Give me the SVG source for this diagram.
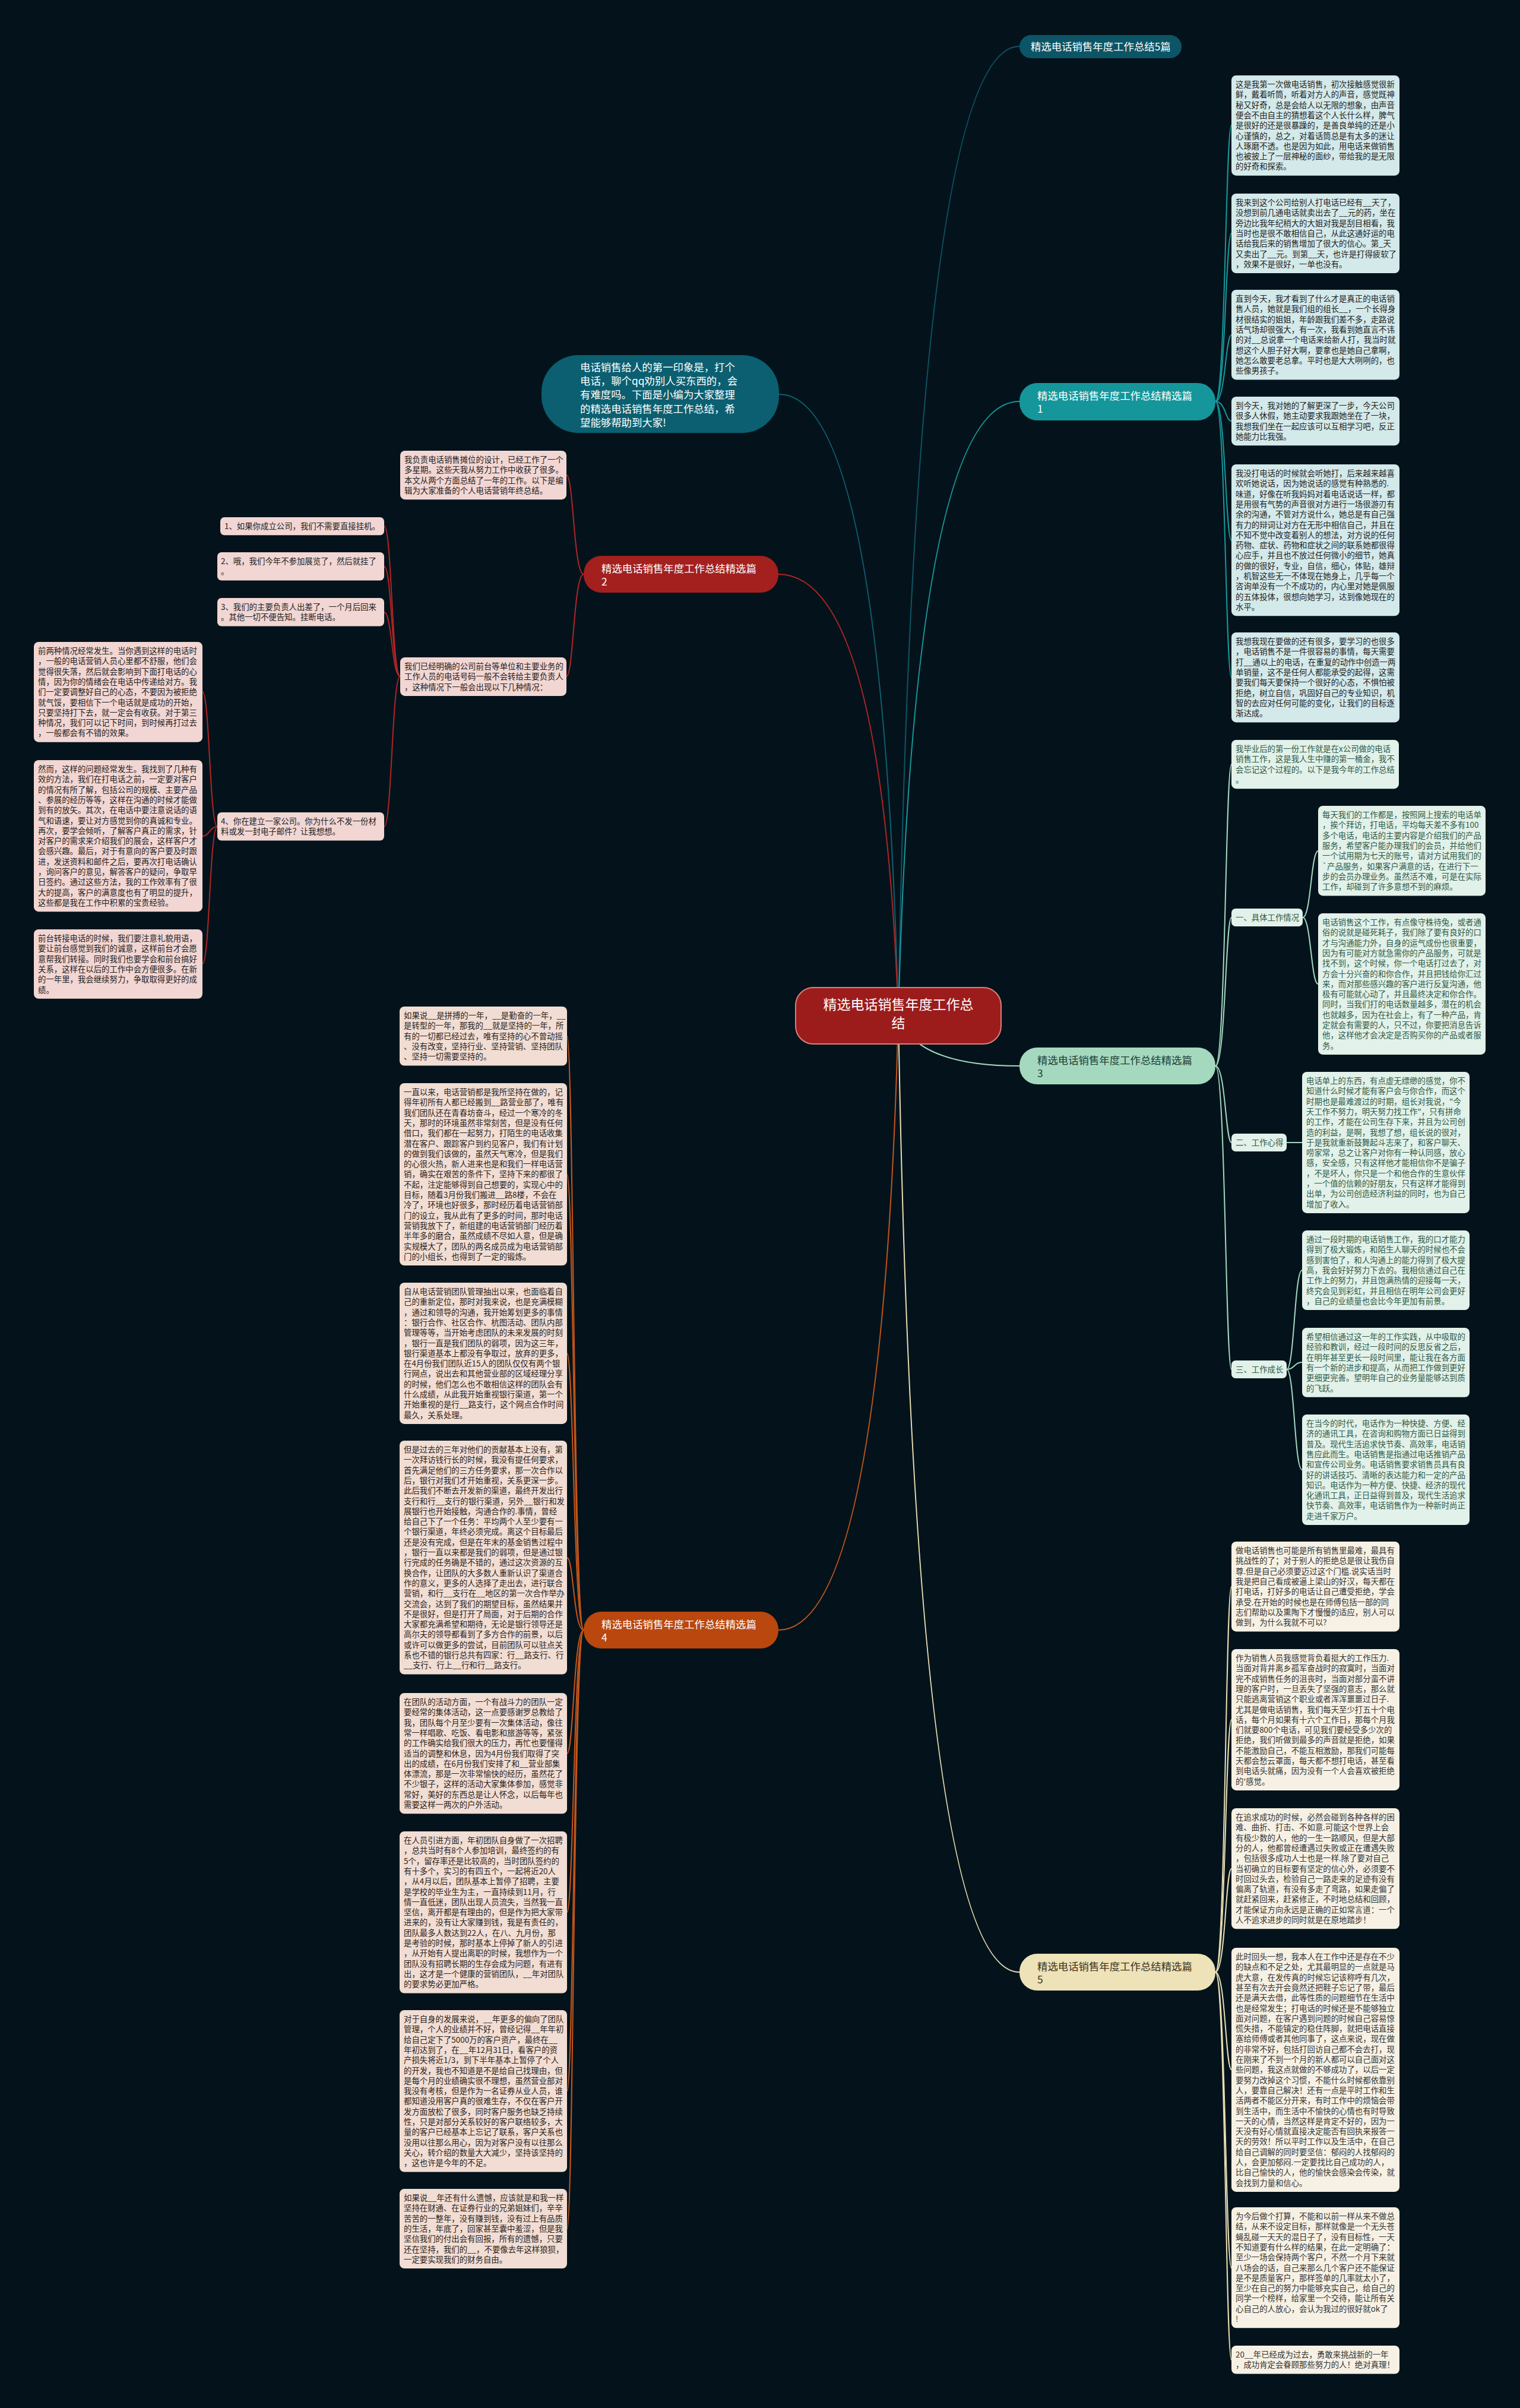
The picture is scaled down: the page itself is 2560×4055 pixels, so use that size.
<svg xmlns="http://www.w3.org/2000/svg" width="2560" height="4055" viewBox="0 0 2560 4055">
<style>
text{font-family:"Noto Sans CJK SC","Noto Sans",sans-serif;}
.tx{font-size:13.4px;}
.nd{font-size:17.4px;}
.ln{fill:none;stroke-width:2;}
.c1 rect{fill:#d3e9ea;} .c1 text{fill:#222;}
.c2 rect{fill:#f2d6d3;} .c2 text{fill:#222;}
.c3 rect{fill:#e2f1e9;} .c3 text{fill:#2d5a47;}
.c4 rect{fill:#f1ddd3;} .c4 text{fill:#2a2320;}
.c5 rect{fill:#f6f1e4;} .c5 text{fill:#333;}
</style>
<rect width="2560" height="4055" fill="#04131b"/>

<g id="connectors">
<path class="ln" stroke="#0e5767" d="M1513 1710 Q1540 78 1717 78"/>
<path class="ln" stroke="#0e6070" d="M1513 1710 Q1486 664 1312 664"/>
<path class="ln" stroke="#17999e" d="M1513 1710 Q1540 676 1717 676"/>
<path class="ln" stroke="#b02525" d="M1513 1710 Q1486 967 1311 967"/>
<path class="ln" stroke="#a4d9c0" d="M1513 1710 Q1540 1795 1717 1795"/>
<path class="ln" stroke="#c4561a" d="M1513 1710 Q1486 2745 1311 2745"/>
<path class="ln" stroke="#eadfb5" d="M1513 1710 Q1540 3321 1717 3321"/>
<g stroke="#17999e" class="ln">
<path d="M2047 676 C2064 676 2064 211 2074 211"/>
<path d="M2047 676 C2064 676 2064 393 2074 393"/>
<path d="M2047 676 C2064 676 2064 564 2074 564"/>
<path d="M2047 676 C2064 676 2064 709 2074 709"/>
<path d="M2047 676 C2064 676 2064 910 2074 910"/>
<path d="M2047 676 C2064 676 2064 1141 2074 1141"/>
</g>
<g stroke="#a4d9c0" class="ln">
<path d="M2047 1795 C2064 1795 2064 1287 2074 1287"/>
<path d="M2047 1795 C2064 1795 2064 1545 2074 1545"/>
<path d="M2047 1795 C2064 1795 2064 1924 2074 1924"/>
<path d="M2047 1795 C2064 1795 2064 2306 2074 2306"/>
<path d="M2194 1545 C2208 1545 2208 1433 2220 1433"/>
<path d="M2194 1545 C2208 1545 2208 1657 2220 1657"/>
<path d="M2167 1924 L2193 1924"/>
<path d="M2167 2306 C2180 2306 2180 2139 2193 2139"/>
<path d="M2167 2306 C2180 2306 2180 2294 2193 2294"/>
<path d="M2167 2306 C2180 2306 2180 2475 2193 2475"/>
</g>
<g stroke="#eadfb5" class="ln">
<path d="M2047 3321 C2064 3321 2064 2672 2074 2672"/>
<path d="M2047 3321 C2064 3321 2064 2896 2074 2896"/>
<path d="M2047 3321 C2064 3321 2064 3147 2074 3147"/>
<path d="M2047 3321 C2064 3321 2064 3485 2074 3485"/>
<path d="M2047 3321 C2064 3321 2064 3819 2074 3819"/>
<path d="M2047 3321 C2064 3321 2064 3974 2074 3974"/>
</g>
<g stroke="#c4561a" class="ln">
<path d="M983 2745 C966 2745 966 1745 955 1745"/>
<path d="M983 2745 C966 2745 966 1978 955 1978"/>
<path d="M983 2745 C966 2745 966 2279 955 2279"/>
<path d="M983 2745 C966 2745 966 2623 955 2623"/>
<path d="M983 2745 C966 2745 966 2953 955 2953"/>
<path d="M983 2745 C966 2745 966 3220 955 3220"/>
<path d="M983 2745 C966 2745 966 3521 955 3521"/>
<path d="M983 2745 C966 2745 966 3753 955 3753"/>
</g>
<g stroke="#b02525" class="ln">
<path d="M983 967 C966 967 966 800 954 800"/>
<path d="M983 967 C966 967 966 1139 954 1139"/>
<path d="M674 1139 C660 1139 660 886 647 886"/>
<path d="M674 1139 C660 1139 660 954 647 954"/>
<path d="M674 1139 C660 1139 660 1031 647 1031"/>
<path d="M674 1139 C660 1139 660 1392 647 1392"/>
<path d="M366 1392 C353 1392 353 1165 341 1165"/>
<path d="M366 1392 C353 1392 353 1408 341 1408"/>
<path d="M366 1392 C353 1392 353 1623 341 1623"/>
</g>
</g>

<g id="root">
<rect x="1340" y="1663" width="346" height="95" rx="30" fill="#9c1c1c" stroke="#d88080" stroke-width="2"/>
<text x="1513" y="1700" text-anchor="middle" font-size="23" fill="#fff"><tspan x="1513">精选电话销售年度工作总</tspan><tspan x="1513" dy="31">结</tspan></text>
</g>

<g id="title5">
<rect x="1717" y="59" width="273" height="39" rx="19.5" fill="#0c5566"/>
<text x="1736" y="85" class="nd" fill="#fff">精选电话销售年度工作总结5篇</text>
</g>

<g id="intro">
<rect x="912" y="598" width="400" height="131" rx="62" fill="#0b5f70"/>
<text class="nd" fill="#fff"><tspan x="977" y="625">电话销售给人的第一印象是，打个</tspan><tspan x="977" dy="23.2">电话，聊个qq劝别人买东西的，会</tspan><tspan x="977" dy="23.2">有难度吗。下面是小编为大家整理</tspan><tspan x="977" dy="23.2">的精选电话销售年度工作总结，希</tspan><tspan x="977" dy="23.2">望能够帮助到大家!</tspan></text>
</g>

<g id="node1">
<rect x="1717" y="645" width="330" height="63" rx="30" fill="#14969b"/>
<text class="nd" fill="#fff"><tspan x="1747" y="673">精选电话销售年度工作总结精选篇</tspan><tspan x="1747" dy="22">1</tspan></text>
</g>
<g id="node2">
<rect x="983" y="936" width="328" height="62" rx="30" fill="#a3201f"/>
<text class="nd" fill="#fff"><tspan x="1013" y="964">精选电话销售年度工作总结精选篇</tspan><tspan x="1013" dy="22">2</tspan></text>
</g>
<g id="node3">
<rect x="1717" y="1764" width="330" height="62" rx="30" fill="#a4d9c0"/>
<text class="nd" fill="#1e3d35"><tspan x="1747" y="1792">精选电话销售年度工作总结精选篇</tspan><tspan x="1747" dy="22">3</tspan></text>
</g>
<g id="node4">
<rect x="983" y="2714" width="328" height="62" rx="30" fill="#b9470e"/>
<text class="nd" fill="#fff"><tspan x="1013" y="2742">精选电话销售年度工作总结精选篇</tspan><tspan x="1013" dy="22">4</tspan></text>
</g>
<g id="node5">
<rect x="1717" y="3290" width="330" height="62" rx="30" fill="#eee2b8"/>
<text class="nd" fill="#3b3320"><tspan x="1747" y="3318">精选电话销售年度工作总结精选篇</tspan><tspan x="1747" dy="22">5</tspan></text>
</g>

<g class="c1">
<g id="b1a"><rect x="2074" y="127" width="283" height="168.7" rx="8"/>
<text class="tx"><tspan x="2081" y="147">这是我第一次做电话销售，初次接触感觉很新</tspan><tspan x="2081" dy="17.3">鲜，戴着听筒，听着对方人的声音，感觉既神</tspan><tspan x="2081" dy="17.3">秘又好奇，总是会给人以无限的想象，由声音</tspan><tspan x="2081" dy="17.3">便会不由自主的猜想着这个人长什么样，脾气</tspan><tspan x="2081" dy="17.3">是很好的还是很暴躁的，是善良单纯的还是小</tspan><tspan x="2081" dy="17.3">心谨慎的，总之，对着话筒总是有太多的迷让</tspan><tspan x="2081" dy="17.3">人琢磨不透。也是因为如此，用电话来做销售</tspan><tspan x="2081" dy="17.3">也被披上了一层神秘的面纱，带给我的是无限</tspan><tspan x="2081" dy="17.3">的好奇和探索。</tspan></text></g>
<g id="b1b"><rect x="2074" y="326" width="283" height="134.1" rx="8"/>
<text class="tx"><tspan x="2081" y="346">我来到这个公司给别人打电话已经有__天了，</tspan><tspan x="2081" dy="17.3">没想到前几通电话就卖出去了__元的药，坐在</tspan><tspan x="2081" dy="17.3">旁边比我年纪稍大的大姐对我是刮目相看，我</tspan><tspan x="2081" dy="17.3">当时也是很不敢相信自己，从此这通好运的电</tspan><tspan x="2081" dy="17.3">话给我后来的销售增加了很大的信心。第_天</tspan><tspan x="2081" dy="17.3">又卖出了__元。到第__天，也许是打得疲软了</tspan><tspan x="2081" dy="17.3">，效果不是很好，一单也没有。</tspan></text></g>
<g id="b1c"><rect x="2074" y="488" width="283" height="151.4" rx="8"/>
<text class="tx"><tspan x="2081" y="508">直到今天，我才看到了什么才是真正的电话销</tspan><tspan x="2081" dy="17.3">售人员，她就是我们组的组长__，一个长得身</tspan><tspan x="2081" dy="17.3">材很结实的姐姐，年龄跟我们差不多，走路说</tspan><tspan x="2081" dy="17.3">话气场却很强大，有一次，我看到她直言不讳</tspan><tspan x="2081" dy="17.3">的对__总说拿一个电话来给新人打，我当时就</tspan><tspan x="2081" dy="17.3">想这个人胆子好大啊，要拿也是她自己拿啊，</tspan><tspan x="2081" dy="17.3">她怎么敢要老总拿。平时也是大大咧咧的，也</tspan><tspan x="2081" dy="17.3">些像男孩子。</tspan></text></g>
<g id="b1d"><rect x="2074" y="668" width="283" height="82.2" rx="8"/>
<text class="tx"><tspan x="2081" y="688">到今天，我对她的了解更深了一步，今天公司</tspan><tspan x="2081" dy="17.3">很多人休假，她主动要求我跟她坐在了一块，</tspan><tspan x="2081" dy="17.3">我想我们坐在一起应该可以互相学习吧，反正</tspan><tspan x="2081" dy="17.3">她能力比我强。</tspan></text></g>
<g id="b1e"><rect x="2074" y="782" width="283" height="255.2" rx="8"/>
<text class="tx"><tspan x="2081" y="802">我没打电话的时候就会听她打，后来越来越喜</tspan><tspan x="2081" dy="17.3">欢听她说话，因为她说话的感觉有种熟悉的.</tspan><tspan x="2081" dy="17.3">味道，好像在听我妈妈对着电话说话一样，都</tspan><tspan x="2081" dy="17.3">是用很有气势的声音很对方进行一场很游刃有</tspan><tspan x="2081" dy="17.3">余的沟通，不管对方说什么，她总是有自己强</tspan><tspan x="2081" dy="17.3">有力的辩词让对方在无形中相信自己，并且在</tspan><tspan x="2081" dy="17.3">不知不觉中改变着别人的想法，对方说的任何</tspan><tspan x="2081" dy="17.3">药物、症状、药物和症状之间的联系她都很得</tspan><tspan x="2081" dy="17.3">心应手，并且也不放过任何微小的细节，她真</tspan><tspan x="2081" dy="17.3">的做的很好，专业，自信，细心，体贴，雄辩</tspan><tspan x="2081" dy="17.3">，机智这些无一不体现在她身上，几乎每一个</tspan><tspan x="2081" dy="17.3">咨询单没有一个不成功的，内心里对她是佩服</tspan><tspan x="2081" dy="17.3">的五体投体，很想向她学习，达到像她现在的</tspan><tspan x="2081" dy="17.3">水平。</tspan></text></g>
<g id="b1f"><rect x="2074" y="1065" width="283" height="151.4" rx="8"/>
<text class="tx"><tspan x="2081" y="1085">我想我现在要做的还有很多，要学习的也很多</tspan><tspan x="2081" dy="17.3">，电话销售不是一件很容易的事情，每天需要</tspan><tspan x="2081" dy="17.3">打__通以上的电话，在重复的动作中创造一两</tspan><tspan x="2081" dy="17.3">单销量，这不是任何人都能承受的起得，这需</tspan><tspan x="2081" dy="17.3">要我们每天要保持一个很好的心态，不惧怕被</tspan><tspan x="2081" dy="17.3">拒绝，树立自信，巩固好自己的专业知识，机</tspan><tspan x="2081" dy="17.3">智的去应对任何可能的变化，让我们的目标逐</tspan><tspan x="2081" dy="17.3">渐达成。</tspan></text></g>
</g>

<g class="c3">
<g id="b3intro"><rect x="2074" y="1246" width="282" height="82.2" rx="8"/>
<text class="tx"><tspan x="2081" y="1266">我毕业后的第一份工作就是在x公司做的电话</tspan><tspan x="2081" dy="17.3">销售工作，这是我人生中赚的第一桶金，我不</tspan><tspan x="2081" dy="17.3">会忘记这个过程的。以下是我今年的工作总结</tspan><tspan x="2081" dy="17.3">。</tspan></text></g>
<g id="b3l1"><rect x="2074" y="1530" width="120" height="30" rx="7"/><text class="tx" x="2081" y="1550">一、具体工作情况</text></g>
<g id="b3a"><rect x="2220" y="1357" width="282" height="151.4" rx="8"/>
<text class="tx"><tspan x="2227" y="1377">每天我们的工作都是，按照网上搜索的电话单</tspan><tspan x="2227" dy="17.3">，挨个拜访，打电话，平均每天差不多有100</tspan><tspan x="2227" dy="17.3">多个电话，电话的主要内容是介绍我们的产品</tspan><tspan x="2227" dy="17.3">服务，希望客户能办理我们的会员，并给他们</tspan><tspan x="2227" dy="17.3">一个试用期为七天的账号，请对方试用我们的</tspan><tspan x="2227" dy="17.3">`产品服务，如果客户满意的话，在进行下一</tspan><tspan x="2227" dy="17.3">步的会员办理业务。虽然活不难，可是在实际</tspan><tspan x="2227" dy="17.3">工作，却碰到了许多意想不到的麻烦。</tspan></text></g>
<g id="b3b"><rect x="2220" y="1538" width="282" height="237.9" rx="8"/>
<text class="tx"><tspan x="2227" y="1558">电话销售这个工作，有点像守株待兔，或者通</tspan><tspan x="2227" dy="17.3">俗的说就是碰死耗子，我们除了要有良好的口</tspan><tspan x="2227" dy="17.3">才与沟通能力外，自身的运气成份也很重要，</tspan><tspan x="2227" dy="17.3">因为有可能对方就急需你的产品服务，可就是</tspan><tspan x="2227" dy="17.3">找不到，这个时候，你一个电话打过去了，对</tspan><tspan x="2227" dy="17.3">方会十分兴奋的和你合作，并且把钱给你汇过</tspan><tspan x="2227" dy="17.3">来，而对那些感兴趣的客户进行反复沟通，他</tspan><tspan x="2227" dy="17.3">极有可能就心动了，并且最终决定和你合作。</tspan><tspan x="2227" dy="17.3">同时，当我们打的电话数量越多，潜在的机会</tspan><tspan x="2227" dy="17.3">也就越多，因为在社会上，有了一种产品，肯</tspan><tspan x="2227" dy="17.3">定就会有需要的人，只不过，你要把消息告诉</tspan><tspan x="2227" dy="17.3">他，这样他才会决定是否购买你的产品或者服</tspan><tspan x="2227" dy="17.3">务。</tspan></text></g>
<g id="b3l2"><rect x="2074" y="1909" width="93" height="30" rx="7"/><text class="tx" x="2081" y="1929">二、工作心得</text></g>
<g id="b3c"><rect x="2193" y="1805" width="282" height="237.9" rx="8"/>
<text class="tx"><tspan x="2200" y="1825">电话单上的东西，有点虚无缥缈的感觉，你不</tspan><tspan x="2200" dy="17.3">知道什么时候才能有客户会与你合作，而这个</tspan><tspan x="2200" dy="17.3">时期也是最难渡过的时期，组长对我说，"今</tspan><tspan x="2200" dy="17.3">天工作不努力，明天努力找工作"，只有拼命</tspan><tspan x="2200" dy="17.3">的工作，才能在公司生存下来，并且为公司创</tspan><tspan x="2200" dy="17.3">造的利益，是啊，我想了想，组长说的很对，</tspan><tspan x="2200" dy="17.3">于是我就重新鼓舞起斗志来了，和客户聊天、</tspan><tspan x="2200" dy="17.3">唠家常，总之让客户对你有一种认同感，放心</tspan><tspan x="2200" dy="17.3">感，安全感，只有这样他才能相信你不是骗子</tspan><tspan x="2200" dy="17.3">，不是坏人，你只是一个和他合作的生意伙伴</tspan><tspan x="2200" dy="17.3">，一个值的信赖的好朋友，只有这样才能得到</tspan><tspan x="2200" dy="17.3">出单，为公司创造经济利益的同时，也为自己</tspan><tspan x="2200" dy="17.3">增加了收入。</tspan></text></g>
<g id="b3l3"><rect x="2074" y="2291" width="93" height="30" rx="7"/><text class="tx" x="2081" y="2311">三、工作成长</text></g>
<g id="b3d"><rect x="2193" y="2072" width="282" height="134.1" rx="8"/>
<text class="tx"><tspan x="2200" y="2092">通过一段时期的电话销售工作，我的口才能力</tspan><tspan x="2200" dy="17.3">得到了极大锻炼，和陌生人聊天的时候也不会</tspan><tspan x="2200" dy="17.3">感到害怕了，和人沟通上的能力得到了极大提</tspan><tspan x="2200" dy="17.3">高，我会好好努力下去的。我相信通过自己在</tspan><tspan x="2200" dy="17.3">工作上的努力，并且饱满热情的迎接每一天，</tspan><tspan x="2200" dy="17.3">终究会见到彩虹，并且相信在明年公司会更好</tspan><tspan x="2200" dy="17.3">，自己的业绩量也会比今年更加有前景。</tspan></text></g>
<g id="b3e"><rect x="2193" y="2236" width="282" height="116.8" rx="8"/>
<text class="tx"><tspan x="2200" y="2256">希望相信通过这一年的工作实践，从中吸取的</tspan><tspan x="2200" dy="17.3">经验和教训，经过一段时间的反思反省之后，</tspan><tspan x="2200" dy="17.3">在明年甚至更长一段时间里，能让我在各方面</tspan><tspan x="2200" dy="17.3">有一个新的进步和提高，从而把工作做到更好</tspan><tspan x="2200" dy="17.3">更细更完善。望明年自己的业务量能够达到质</tspan><tspan x="2200" dy="17.3">的飞跃。</tspan></text></g>
<g id="b3f"><rect x="2193" y="2382" width="282" height="186" rx="8"/>
<text class="tx"><tspan x="2200" y="2402">在当今的时代，电话作为一种快捷、方便、经</tspan><tspan x="2200" dy="17.3">济的通讯工具，在咨询和购物方面已日益得到</tspan><tspan x="2200" dy="17.3">普及。现代生活追求快节奏、高效率，电话销</tspan><tspan x="2200" dy="17.3">售应此而生。电话销售是指通过电话推销产品</tspan><tspan x="2200" dy="17.3">和宣传公司业务。电话销售要求销售员具有良</tspan><tspan x="2200" dy="17.3">好的讲话技巧、清晰的表达能力和一定的产品</tspan><tspan x="2200" dy="17.3">知识。电话作为一种方便、快捷、经济的现代</tspan><tspan x="2200" dy="17.3">化通讯工具，正日益得到普及，现代生活追求</tspan><tspan x="2200" dy="17.3">快节奏、高效率，电话销售作为一种新时尚正</tspan><tspan x="2200" dy="17.3">走进千家万户。</tspan></text></g>
</g>

<g class="c5">
<g id="b5a"><rect x="2074" y="2596" width="283" height="151.4" rx="8"/>
<text class="tx"><tspan x="2081" y="2616">做电话销售也可能是所有销售里最难，最具有</tspan><tspan x="2081" dy="17.3">挑战性的了；对于别人的拒绝总是很让我伤自</tspan><tspan x="2081" dy="17.3">尊.但是自己必须要迈过这个门槛.说实话当时</tspan><tspan x="2081" dy="17.3">我是把自己看成被逼上梁山的好汉，每天都在</tspan><tspan x="2081" dy="17.3">打电话，打好多的电话让自己遭受拒绝，学会</tspan><tspan x="2081" dy="17.3">承受.在开始的时候也是在师傅包括一部的同</tspan><tspan x="2081" dy="17.3">志们帮助以及熏陶下才慢慢的适应，别人可以</tspan><tspan x="2081" dy="17.3">做到，为什么我就不可以?</tspan></text></g>
<g id="b5b"><rect x="2074" y="2777" width="283" height="237.9" rx="8"/>
<text class="tx"><tspan x="2081" y="2797">作为销售人员我感觉背负着挺大的工作压力.</tspan><tspan x="2081" dy="17.3">当面对背井离乡孤军奋战时的寂寞时，当面对</tspan><tspan x="2081" dy="17.3">完不成销售任务的沮丧时，当面对部分蛮不讲</tspan><tspan x="2081" dy="17.3">理的客户时，一旦丢失了坚强的意志，那么就</tspan><tspan x="2081" dy="17.3">只能逃离营销这个职业或者浑浑噩噩过日子.</tspan><tspan x="2081" dy="17.3">尤其是做电话销售，我们每天至少打五十个电</tspan><tspan x="2081" dy="17.3">话，每个月如果有十六个工作日，那每个月我</tspan><tspan x="2081" dy="17.3">们就要800个电话，可见我们要经受多少次的</tspan><tspan x="2081" dy="17.3">拒绝，我们听做到最多的声音就是拒绝，如果</tspan><tspan x="2081" dy="17.3">不能激励自己，不能互相激励，那我们可能每</tspan><tspan x="2081" dy="17.3">天都会愁云罩面，每天都不想打电话，甚至看</tspan><tspan x="2081" dy="17.3">到电话头就痛，因为没有一个人会喜欢被拒绝</tspan><tspan x="2081" dy="17.3">的'感觉。</tspan></text></g>
<g id="b5c"><rect x="2074" y="3045" width="283" height="203.3" rx="8"/>
<text class="tx"><tspan x="2081" y="3065">在追求成功的时候，必然会碰到各种各样的困</tspan><tspan x="2081" dy="17.3">难、曲折、打击、不如意.可能这个世界上会</tspan><tspan x="2081" dy="17.3">有极少数的人，他的一生一路顺风，但是大部</tspan><tspan x="2081" dy="17.3">分的人，他都曾经遭遇过失败或正在遭遇失败</tspan><tspan x="2081" dy="17.3">，包括很多成功人士也是一样.除了要对自己</tspan><tspan x="2081" dy="17.3">当初确立的目标要有坚定的信心外，必须要不</tspan><tspan x="2081" dy="17.3">时回过头去，检验自己一路走来的足迹有没有</tspan><tspan x="2081" dy="17.3">偏离了轨道，有没有多走了弯路，如果走偏了</tspan><tspan x="2081" dy="17.3">就赶紧回来，赶紧修正，不时地总结和回顾，</tspan><tspan x="2081" dy="17.3">才能保证方向永远是正确的正如常言道：一个</tspan><tspan x="2081" dy="17.3">人不追求进步的同时就是在原地踏步！</tspan></text></g>
<g id="b5d"><rect x="2074" y="3280" width="283" height="410.9" rx="8"/>
<text class="tx"><tspan x="2081" y="3300">此时回头一想，我本人在工作中还是存在不少</tspan><tspan x="2081" dy="17.3">的缺点和不足之处，尤其最明显的一点就是马</tspan><tspan x="2081" dy="17.3">虎大意，在发传真的时候忘记该称呼有几次，</tspan><tspan x="2081" dy="17.3">甚至有次去开会竟然还把鞋子忘记了带，最后</tspan><tspan x="2081" dy="17.3">还是满天去借，此等性质的问题细节在生活中</tspan><tspan x="2081" dy="17.3">也是经常发生；打电话的时候还是不能够独立</tspan><tspan x="2081" dy="17.3">面对问题，在客户遇到问题的时候自己容易惊</tspan><tspan x="2081" dy="17.3">慌失措，不能镇定的稳住阵脚，就把电话直接</tspan><tspan x="2081" dy="17.3">塞给师傅或者其他同事了，这点来说，现在做</tspan><tspan x="2081" dy="17.3">的非常不好，包括打回访自己都不会去打，现</tspan><tspan x="2081" dy="17.3">在刚来了不到一个月的新人都可以自己面对这</tspan><tspan x="2081" dy="17.3">些问题，我这点就做的不够成功了，以后一定</tspan><tspan x="2081" dy="17.3">要努力改掉这个习惯，不能什么时候都依靠别</tspan><tspan x="2081" dy="17.3">人，要靠自己解决！还有一点是平时工作和生</tspan><tspan x="2081" dy="17.3">活两者不能区分开来，有时工作中的烦恼会带</tspan><tspan x="2081" dy="17.3">到生活中，而生活中不愉快的心情也有时导致</tspan><tspan x="2081" dy="17.3">一天的心情，当然这样是肯定不好的，因为一</tspan><tspan x="2081" dy="17.3">天没有好心情就直接决定能否有回执来报答一</tspan><tspan x="2081" dy="17.3">天的劳效！所以平时工作以及生活中，在自己</tspan><tspan x="2081" dy="17.3">给自己调解的同时要坚信：郁闷的人找郁闷的</tspan><tspan x="2081" dy="17.3">人，会更加郁闷.一定要找比自己成功的人，</tspan><tspan x="2081" dy="17.3">比自己愉快的人，他的愉快会感染会传染，就</tspan><tspan x="2081" dy="17.3">会找到力量和信心。</tspan></text></g>
<g id="b5e"><rect x="2074" y="3717" width="283" height="203.3" rx="8"/>
<text class="tx"><tspan x="2081" y="3737">为今后做个打算，不能和以前一样从来不做总</tspan><tspan x="2081" dy="17.3">结，从来不设定目标，那样就像是一个无头苍</tspan><tspan x="2081" dy="17.3">蝇乱碰一天天的混日子了，没有目标性，一天</tspan><tspan x="2081" dy="17.3">不知道要有什么样的结果，在此一定明确了：</tspan><tspan x="2081" dy="17.3">至少一场会保持两个客户，不然一个月下来就</tspan><tspan x="2081" dy="17.3">八场会的话，自己来那么几个客户还不能保证</tspan><tspan x="2081" dy="17.3">是不是质量客户，那样签单的几率就太小了，</tspan><tspan x="2081" dy="17.3">至少在自己的努力中能够充实自己，给自己的</tspan><tspan x="2081" dy="17.3">同学一个榜样，给家里一个交待，能让所有关</tspan><tspan x="2081" dy="17.3">心自己的人放心，会认为我过的很好就ok了</tspan><tspan x="2081" dy="17.3">!</tspan></text></g>
<g id="b5f"><rect x="2074" y="3950" width="283" height="47.6" rx="8"/>
<text class="tx"><tspan x="2081" y="3970">20__年已经成为过去，勇敢来挑战新的一年</tspan><tspan x="2081" dy="17.3">，成功肯定会眷顾那些努力的人！绝对真理！</tspan></text></g>
</g>

<g class="c4">
<g id="b4a"><rect x="673" y="1695" width="282" height="99.5" rx="8"/>
<text class="tx"><tspan x="680" y="1715">如果说__是拼搏的一年，__是勤奋的一年，__</tspan><tspan x="680" dy="17.3">是转型的一年，那我的__就是坚持的一年，所</tspan><tspan x="680" dy="17.3">有的一切都已经过去，唯有坚持的心不曾动摇</tspan><tspan x="680" dy="17.3">、没有改变，坚持行业、坚持营销、坚持团队</tspan><tspan x="680" dy="17.3">、坚持一切需要坚持的。</tspan></text></g>
<g id="b4b"><rect x="673" y="1824" width="282" height="307.1" rx="8"/>
<text class="tx"><tspan x="680" y="1844">一直以来，电话营销都是我所坚持在做的，记</tspan><tspan x="680" dy="17.3">得年初所有人都已经搬到__路营业部了，唯有</tspan><tspan x="680" dy="17.3">我们团队还在青春坊奋斗，经过一个寒冷的冬</tspan><tspan x="680" dy="17.3">天，那时的环境虽然非常刻苦，但是没有任何</tspan><tspan x="680" dy="17.3">借口，我们都在一起努力，打陌生的电话收集</tspan><tspan x="680" dy="17.3">潜在客户、跟踪客户到约见客户，我们有计划</tspan><tspan x="680" dy="17.3">的做到我们该做的，虽然天气寒冷，但是我们</tspan><tspan x="680" dy="17.3">的心很火热，新人进来也是和我们一样电话营</tspan><tspan x="680" dy="17.3">销，确实在艰苦的条件下，坚持下来的都很了</tspan><tspan x="680" dy="17.3">不起，注定能够得到自己想要的，实现心中的</tspan><tspan x="680" dy="17.3">目标，随着3月份我们搬进__路8楼，不会在</tspan><tspan x="680" dy="17.3">冷了，环境也好很多，那时经历着电话营销部</tspan><tspan x="680" dy="17.3">门的设立，我从此有了更多的时间，那时电话</tspan><tspan x="680" dy="17.3">营销我放下了，新组建的电话营销部门经历着</tspan><tspan x="680" dy="17.3">半年多的磨合，虽然成绩不尽如人意，但是确</tspan><tspan x="680" dy="17.3">实规模大了，团队的两名成员成为电话营销部</tspan><tspan x="680" dy="17.3">门的小组长，也得到了一定的锻炼。</tspan></text></g>
<g id="b4c"><rect x="673" y="2160" width="282" height="237.9" rx="8"/>
<text class="tx"><tspan x="680" y="2180">自从电话营销团队管理抽出以来，也面临着自</tspan><tspan x="680" dy="17.3">己的重新定位，那时对我来说，也是充满模糊</tspan><tspan x="680" dy="17.3">，通过和领导的沟通，我开始筹划更多的事情</tspan><tspan x="680" dy="17.3">：银行合作、社区合作、杭图活动、团队内部</tspan><tspan x="680" dy="17.3">管理等等，当开始考虑团队的未来发展的时刻</tspan><tspan x="680" dy="17.3">，银行一直是我们团队的弱项，因为这三年，</tspan><tspan x="680" dy="17.3">银行渠道基本上都没有争取过，放弃的更多，</tspan><tspan x="680" dy="17.3">在4月份我们团队近15人的团队仅仅有两个银</tspan><tspan x="680" dy="17.3">行网点，说出去和其他营业部的区域经理分享</tspan><tspan x="680" dy="17.3">的时候，他们怎么也不敢相信这样的团队会有</tspan><tspan x="680" dy="17.3">什么成绩，从此我开始重视银行渠道，第一个</tspan><tspan x="680" dy="17.3">开始重视的是行__路支行，这个网点合作时间</tspan><tspan x="680" dy="17.3">最久，关系处理。</tspan></text></g>
<g id="b4d"><rect x="673" y="2426" width="282" height="393.6" rx="8"/>
<text class="tx"><tspan x="680" y="2446">但是过去的三年对他们的贡献基本上没有，第</tspan><tspan x="680" dy="17.3">一次拜访钱行长的时候，我没有提任何要求，</tspan><tspan x="680" dy="17.3">首先满足他们的三方任务要求，那一次合作以</tspan><tspan x="680" dy="17.3">后，银行对我们才开始重视，关系更深一步。</tspan><tspan x="680" dy="17.3">此后我们不断去开发新的渠道，最终开发出行</tspan><tspan x="680" dy="17.3">支行和行__支行的银行渠道，另外__银行和发</tspan><tspan x="680" dy="17.3">展银行也开始接触，沟通合作的.事情，曾经</tspan><tspan x="680" dy="17.3">给自己下了一个任务：平均两个人至少要有一</tspan><tspan x="680" dy="17.3">个银行渠道，年终必须完成。离这个目标最后</tspan><tspan x="680" dy="17.3">还是没有完成，但是在年末的基金销售过程中</tspan><tspan x="680" dy="17.3">，银行一直以来都是我们的弱项，但是通过银</tspan><tspan x="680" dy="17.3">行完成的任务确是不错的，通过这次资源的互</tspan><tspan x="680" dy="17.3">换合作，让团队的大多数人重新认识了渠道合</tspan><tspan x="680" dy="17.3">作的意义，更多的人选择了走出去，进行联合</tspan><tspan x="680" dy="17.3">营销，和行__支行在__地区的第一次合作举办</tspan><tspan x="680" dy="17.3">交流会，达到了我们的期望目标，虽然结果并</tspan><tspan x="680" dy="17.3">不是很好，但是打开了局面，对于后期的合作</tspan><tspan x="680" dy="17.3">大家都充满希望和期待，无论是银行领导还是</tspan><tspan x="680" dy="17.3">高尔夫的领导都看到了多方合作的前景，以后</tspan><tspan x="680" dy="17.3">或许可以做更多的尝试，目前团队可以驻点关</tspan><tspan x="680" dy="17.3">系也不错的银行总共有四家：行__路支行、行</tspan><tspan x="680" dy="17.3">__支行、行上__行和行__路支行。</tspan></text></g>
<g id="b4e"><rect x="673" y="2851" width="282" height="203.3" rx="8"/>
<text class="tx"><tspan x="680" y="2871">在团队的活动方面，一个有战斗力的团队一定</tspan><tspan x="680" dy="17.3">要经常的集体活动，这一点要感谢罗总教给了</tspan><tspan x="680" dy="17.3">我，团队每个月至少要有一次集体活动，像往</tspan><tspan x="680" dy="17.3">常一样唱歌、吃饭、看电影和旅游等等，紧张</tspan><tspan x="680" dy="17.3">的工作确实给我们很大的压力，再忙也要懂得</tspan><tspan x="680" dy="17.3">适当的调整和休息，因为4月份我们取得了突</tspan><tspan x="680" dy="17.3">出的成绩，在6月份我们安排了和__营业部集</tspan><tspan x="680" dy="17.3">体漂流，那是一次非常愉快的经历，虽然花了</tspan><tspan x="680" dy="17.3">不少银子，这样的活动大家集体参加，感觉非</tspan><tspan x="680" dy="17.3">常好，美好的东西总是让人怀念，以后每年也</tspan><tspan x="680" dy="17.3">需要这样一两次的户外活动。</tspan></text></g>
<g id="b4f"><rect x="673" y="3084" width="282" height="272.5" rx="8"/>
<text class="tx"><tspan x="680" y="3104">在人员引进方面，年初团队自身做了一次招聘</tspan><tspan x="680" dy="17.3">，总共当时有8个人参加培训，最终签约的有</tspan><tspan x="680" dy="17.3">5个，留存率还是比较高的，当时团队签约的</tspan><tspan x="680" dy="17.3">有十多个，实习的有四五个，一起将近20人</tspan><tspan x="680" dy="17.3">，从4月以后，团队基本上暂停了招聘，主要</tspan><tspan x="680" dy="17.3">是学校的毕业生为主，一直持续到11月，行</tspan><tspan x="680" dy="17.3">情一直低迷，团队出现人员流失，当然我一直</tspan><tspan x="680" dy="17.3">坚信，离开都是有理由的，但是作为把大家带</tspan><tspan x="680" dy="17.3">进来的，没有让大家赚到钱，我是有责任的，</tspan><tspan x="680" dy="17.3">团队最多人数达到22人，在八、九月份，那</tspan><tspan x="680" dy="17.3">是考验的时候，那时基本上停掉了新人的引进</tspan><tspan x="680" dy="17.3">，从开始有人提出离职的时候，我想作为一个</tspan><tspan x="680" dy="17.3">团队没有招聘长期的生存会成为问题，有进有</tspan><tspan x="680" dy="17.3">出，这才是一个健康的营销团队，__年对团队</tspan><tspan x="680" dy="17.3">的要求势必更加严格。</tspan></text></g>
<g id="b4g"><rect x="673" y="3385" width="282" height="272.5" rx="8"/>
<text class="tx"><tspan x="680" y="3405">对于自身的发展来说，__年更多的偏向了团队</tspan><tspan x="680" dy="17.3">管理，个人的业绩并不好，曾经记得__年年初</tspan><tspan x="680" dy="17.3">给自己定下了5000万的客户资产，最终在__</tspan><tspan x="680" dy="17.3">年初达到了，在__年12月31日，看客户的资</tspan><tspan x="680" dy="17.3">产损失将近1/3，到下半年基本上暂停了个人</tspan><tspan x="680" dy="17.3">的开发，我也不知道是不是给自己找理由，但</tspan><tspan x="680" dy="17.3">是每个月的业绩确实很不理想，虽然营业部对</tspan><tspan x="680" dy="17.3">我没有考核，但是作为一名证券从业人员，谁</tspan><tspan x="680" dy="17.3">都知道没用客户真的很难生存，不仅在客户开</tspan><tspan x="680" dy="17.3">发方面放松了很多，同时客户服务也缺乏持续</tspan><tspan x="680" dy="17.3">性，只是对部分关系较好的客户联络较多，大</tspan><tspan x="680" dy="17.3">量的客户已经基本上忘记了联系，客户关系也</tspan><tspan x="680" dy="17.3">没用以往那么用心，因为对客户没有以往那么</tspan><tspan x="680" dy="17.3">关心，转介绍的数量大大减少，坚持该坚持的</tspan><tspan x="680" dy="17.3">，这也许是今年的不足。</tspan></text></g>
<g id="b4h"><rect x="673" y="3686" width="282" height="134.1" rx="8"/>
<text class="tx"><tspan x="680" y="3706">如果说__年还有什么遗憾，应该就是和我一样</tspan><tspan x="680" dy="17.3">坚持在财通、在证券行业的兄弟姐妹们，辛辛</tspan><tspan x="680" dy="17.3">苦苦的一整年，没有赚到钱，没有过上有品质</tspan><tspan x="680" dy="17.3">的生活，年底了，回家甚至囊中羞涩，但是我</tspan><tspan x="680" dy="17.3">坚信我们的付出会有回报，所有的遗憾，只要</tspan><tspan x="680" dy="17.3">还在坚持，我们的__，不要像去年这样狼狈，</tspan><tspan x="680" dy="17.3">一定要实现我们的财务自由。</tspan></text></g>
</g>

<g class="c2">
<g id="b2a"><rect x="674" y="759" width="280" height="82.2" rx="8"/>
<text class="tx"><tspan x="681" y="779">我负责电话销售摊位的设计，已经工作了一个</tspan><tspan x="681" dy="17.3">多星期。这些天我从努力工作中收获了很多。</tspan><tspan x="681" dy="17.3">本文从两个方面总结了一年的工作。以下是编</tspan><tspan x="681" dy="17.3">辑为大家准备的个人电话营销年终总结。</tspan></text></g>
<g id="b2b"><rect x="674" y="1107" width="280" height="64.9" rx="8"/>
<text class="tx"><tspan x="681" y="1127">我们已经明确的公司前台等单位和主要业务的</tspan><tspan x="681" dy="17.3">工作人员的电话号码一般不会转给主要负责人</tspan><tspan x="681" dy="17.3">，这种情况下一般会出现以下几种情况：</tspan></text></g>
<g id="i1"><rect x="371" y="871" width="276" height="30.3" rx="7"/><text class="tx" x="378" y="891">1、如果你成立公司，我们不需要直接挂机。</text></g>
<g id="i2"><rect x="366" y="930" width="281" height="47.6" rx="7"/><text class="tx"><tspan x="372" y="950">2、哦，我们今年不参加展览了，然后就挂了</tspan><tspan x="372" dy="17.3">。</tspan></text></g>
<g id="i3"><rect x="366" y="1007" width="281" height="47.6" rx="7"/><text class="tx"><tspan x="372" y="1027">3、我们的主要负责人出差了，一个月后回来</tspan><tspan x="372" dy="17.3">。其他一切不便告知。挂断电话。</tspan></text></g>
<g id="i4"><rect x="366" y="1368" width="281" height="47.6" rx="7"/><text class="tx"><tspan x="372" y="1388">4、你在建立一家公司。你为什么不发一份材</tspan><tspan x="372" dy="17.3">料或发一封电子邮件？让我想想。</tspan></text></g>
<g id="L1"><rect x="57" y="1081" width="284" height="168.7" rx="8"/>
<text class="tx"><tspan x="64" y="1101">前两种情况经常发生。当你遇到这样的电话时</tspan><tspan x="64" dy="17.3">，一般的电话营销人员心里都不舒服，他们会</tspan><tspan x="64" dy="17.3">觉得很失落，然后就会影响到下面打电话的心</tspan><tspan x="64" dy="17.3">情，因为你的情绪会在电话中传递给对方。我</tspan><tspan x="64" dy="17.3">们一定要调整好自己的心态，不要因为被拒绝</tspan><tspan x="64" dy="17.3">就气馁，要相信下一个电话就是成功的开始，</tspan><tspan x="64" dy="17.3">只要坚持打下去，就一定会有收获。对于第三</tspan><tspan x="64" dy="17.3">种情况，我们可以记下时间，到时候再打过去</tspan><tspan x="64" dy="17.3">，一般都会有不错的效果。</tspan></text></g>
<g id="L2"><rect x="57" y="1280" width="284" height="255.2" rx="8"/>
<text class="tx"><tspan x="64" y="1300">然而，这样的问题经常发生。我找到了几种有</tspan><tspan x="64" dy="17.3">效的方法，我们在打电话之前，一定要对客户</tspan><tspan x="64" dy="17.3">的情况有所了解，包括公司的规模、主要产品</tspan><tspan x="64" dy="17.3">、参展的经历等等，这样在沟通的时候才能做</tspan><tspan x="64" dy="17.3">到有的放矢。其次，在电话中要注意说话的语</tspan><tspan x="64" dy="17.3">气和语速，要让对方感觉到你的真诚和专业。</tspan><tspan x="64" dy="17.3">再次，要学会倾听，了解客户真正的需求，针</tspan><tspan x="64" dy="17.3">对客户的需求来介绍我们的展会，这样客户才</tspan><tspan x="64" dy="17.3">会感兴趣。最后，对于有意向的客户要及时跟</tspan><tspan x="64" dy="17.3">进，发送资料和邮件之后，要再次打电话确认</tspan><tspan x="64" dy="17.3">，询问客户的意见，解答客户的疑问，争取早</tspan><tspan x="64" dy="17.3">日签约。通过这些方法，我的工作效率有了很</tspan><tspan x="64" dy="17.3">大的提高，客户的满意度也有了明显的提升，</tspan><tspan x="64" dy="17.3">这些都是我在工作中积累的宝贵经验。</tspan></text></g>
<g id="L3"><rect x="57" y="1565" width="284" height="116.8" rx="8"/>
<text class="tx"><tspan x="64" y="1585">前台转接电话的时候，我们要注意礼貌用语，</tspan><tspan x="64" dy="17.3">要让前台感觉到我们的诚意，这样前台才会愿</tspan><tspan x="64" dy="17.3">意帮我们转接。同时我们也要学会和前台搞好</tspan><tspan x="64" dy="17.3">关系，这样在以后的工作中会方便很多。在新</tspan><tspan x="64" dy="17.3">的一年里，我会继续努力，争取取得更好的成</tspan><tspan x="64" dy="17.3">绩。</tspan></text></g>
</g>
</svg>
